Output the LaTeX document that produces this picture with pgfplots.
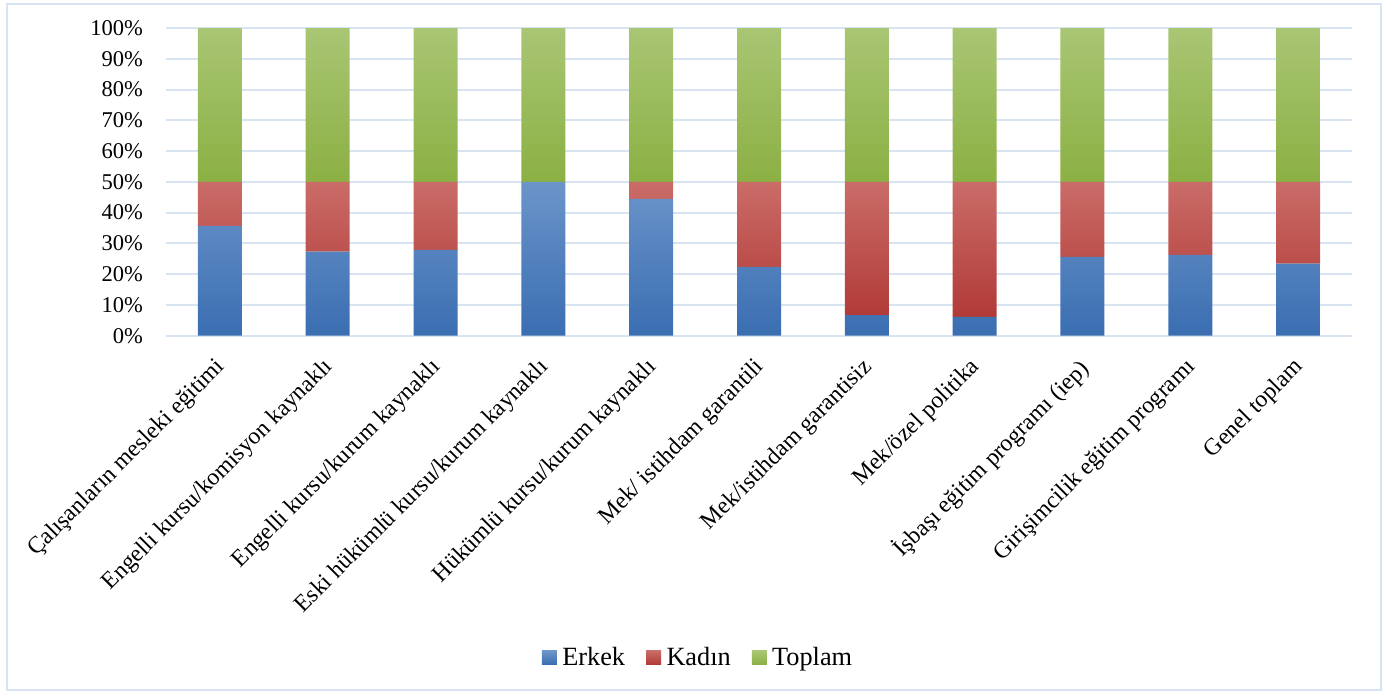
\documentclass[border=0pt]{standalone}
\usepackage{pgfplots}
\pgfplotsset{compat=1.18}
\usepackage{fontspec}
\setmainfont{Liberation Serif}
\definecolor{gridc}{HTML}{D9E4F2}
\definecolor{erkT}{HTML}{6B94CA}
\definecolor{erkB}{HTML}{3A6EB1}
\definecolor{kadT}{HTML}{CA6C68}
\definecolor{kadB}{HTML}{B13A37}
\definecolor{topT}{HTML}{A9C674}
\definecolor{topB}{HTML}{8BB043}
\begin{document}
\begin{tikzpicture}[x=1bp,y=1bp]
\useasboundingbox (-83,167.85) rectangle (614.5,-180.65);
\draw[gridc, line width=1bp] (-79.5,165.9) rectangle (607.5,-177);
\begin{axis}[
  at={(0,0)}, anchor=south west,
  width=593bp, height=153.85bp, scale only axis,
  ybar stacked, bar width=22bp,
  xmin=-0.5, xmax=10.5, ymin=0, ymax=100,
  axis line style={draw=none},
  ytick={0,10,...,100},
  yticklabel={\pgfmathparse{int(\tick)}\pgfmathresult\%},
  ymajorgrids, grid style={gridc, line width=1bp},
  major tick length=0pt,
  xtick={0,...,10},
  xticklabels={Çalışanların mesleki eğitimi, Engelli kursu/komisyon kaynaklı, Engelli kursu/kurum kaynaklı, Eski hükümlü kursu/kurum kaynaklı, Hükümlü kursu/kurum kaynaklı, Mek/ istihdam garantili, Mek/istihdam garantisiz, Mek/özel politika, İşbaşı eğitim programı (iep), Girişimcilik eğitim programı, Genel toplam},
  yticklabel style={font=\fontsize{11.3}{13}\selectfont, xshift=-8bp},
  xticklabel style={font=\fontsize{11.9}{14}\selectfont, inner sep=0pt,
    xshift=-3bp, yshift=-10bp, rotate=45, anchor=north east},
  legend style={at={(0.4490,-1.0465)}, anchor=center, draw=none, legend columns=3,
    font=\fontsize{13.2}{15}\selectfont, nodes={inner sep=1.5bp},
    /tikz/every odd column/.append style={column sep=1.2bp},
    /tikz/every even column/.append style={column sep=9bp}},
  legend image code/.code={\fill[#1] (0bp,-3.4bp) rectangle (7.5bp,3.4bp);},
]
\addplot[draw=none, top color=erkT, bottom color=erkB] coordinates {
 (0,35.7) (1,27.3) (2,27.9) (3,50.0) (4,44.5) (5,22.4) (6,6.7) (7,6.1) (8,25.6) (9,26.3) (10,23.4)};
\addplot[draw=none, top color=kadT, bottom color=kadB] coordinates {
 (0,14.3) (1,22.7) (2,22.1) (3,0.0) (4,5.5) (5,27.6) (6,43.3) (7,43.9) (8,24.4) (9,23.7) (10,26.6)};
\addplot[draw=none, top color=topT, bottom color=topB] coordinates {
 (0,50) (1,50) (2,50) (3,50) (4,50) (5,50) (6,50) (7,50) (8,50) (9,50) (10,50)};
\legend{Erkek, Kadın, Toplam}
\end{axis}
\end{tikzpicture}
\end{document}
